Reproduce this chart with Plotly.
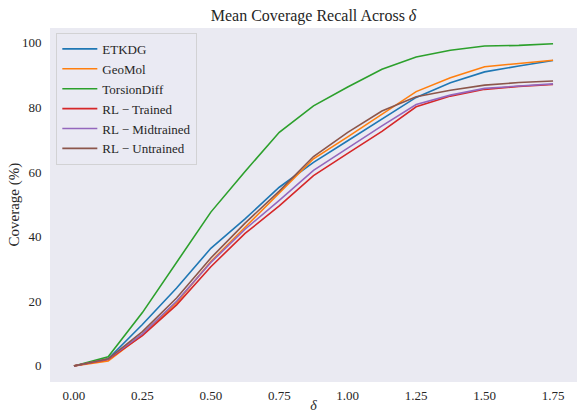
import plotly.graph_objects as go

delta = [0, 0.125, 0.25, 0.375, 0.5, 0.625, 0.75, 0.875, 1.0, 1.125, 1.25, 1.375, 1.5, 1.625, 1.75]

etkdg = [0, 2.2, 12.8, 24.1, 36.4, 45.5, 55.3, 63.0, 69.7, 76.4, 83.1, 87.6, 91.0, 92.8, 94.5]
geomol = [0, 1.5, 9.6, 19.6, 32.3, 43.0, 53.5, 64.1, 70.9, 77.9, 84.9, 89.2, 92.6, 93.6, 94.6]
torsiondiff = [0, 2.8, 16.5, 32.0, 47.6, 60.2, 72.3, 80.5, 86.3, 91.8, 95.6, 97.7, 99.0, 99.2, 99.7]
rl_trained = [0, 2.0, 9.4, 18.9, 30.7, 41.0, 49.5, 58.9, 65.8, 72.6, 80.2, 83.5, 85.6, 86.5, 87.1]
rl_midtrained = [0, 2.1, 9.9, 20.0, 32.0, 42.3, 51.2, 60.5, 67.4, 74.3, 80.9, 83.8, 85.9, 86.7, 87.3]
rl_untrained = [0, 2.2, 10.6, 21.0, 33.4, 44.2, 54.1, 64.8, 72.3, 78.9, 83.3, 85.3, 86.9, 87.7, 88.2]

names = ["ETKDG", "GeoMol", "TorsionDiff", "RL \u2212 Trained", "RL \u2212 Midtrained", "RL \u2212 Untrained"]
series = [etkdg, geomol, torsiondiff, rl_trained, rl_midtrained, rl_untrained]
colors = ["#1f77b4", "#ff7f0e", "#2ca02c", "#d62728", "#9467bd", "#8c564b"]

xticks = [0.0, 0.25, 0.5, 0.75, 1.0, 1.25, 1.5, 1.75]
xticklabels = ["0.00", "0.25", "0.50", "0.75", "1.00", "1.25", "1.50", "1.75"]
yticks = [0, 20, 40, 60, 80, 100]

FONT = "Liberation Serif"

fig = go.Figure()
for name, ys, c in zip(names, series, colors):
    fig.add_trace(go.Scatter(x=delta, y=ys, mode="lines", name=name,
                             line=dict(color=c, width=1.6)))

fig.update_layout(
    width=580, height=413,
    margin=dict(l=50, r=3, t=28, b=31, autoexpand=False),
    paper_bgcolor="white",
    plot_bgcolor="#EAEAF2",
    font=dict(family=FONT, size=13, color="#262626"),
    title=dict(text="Mean Coverage Recall Across <i>\u03b4</i>", x=0.5, xref="paper",
               xanchor="center", y=1 - 15 / 413, yref="container", yanchor="middle",
               font=dict(family=FONT, size=16, color="#262626")),
    showlegend=True,
    legend=dict(x=0.012, y=0.986, xanchor="left", yanchor="top",
                bgcolor="rgba(234,234,242,0.8)", bordercolor="rgba(204,204,204,0.8)",
                borderwidth=1, font=dict(family=FONT, size=13, color="#262626"),
                tracegroupgap=0, itemwidth=35),
    xaxis=dict(range=[-0.0875, 1.8375], tickvals=xticks, ticktext=xticklabels,
               showgrid=False, zeroline=False, showline=False, automargin=False,
               ticks="outside", ticklen=1, tickcolor="rgba(0,0,0,0)",
               tickfont=dict(family=FONT, size=13, color="#262626"),
               title=dict(text="<i>\u03b4</i>", standoff=0,
                          font=dict(family=FONT, size=14, color="#262626"))),
    yaxis=dict(range=[-4.98, 104.58], tickvals=yticks,
               showgrid=False, zeroline=False, showline=False, automargin=False,
               ticks="outside", ticklen=5, tickcolor="rgba(0,0,0,0)",
               tickfont=dict(family=FONT, size=13, color="#262626")),
    annotations=[dict(text="Coverage (%)", textangle=-90, xref="paper", yref="paper",
                      x=-(50 - 13.5) / 527, y=0.5, xanchor="center", yanchor="middle",
                      showarrow=False, font=dict(family=FONT, size=15, color="#262626"))],
)

fig.write_html("out.html",
               config={"displayModeBar": False, "staticPlot": True},
               post_script="document.body.style.margin='0';document.body.style.overflow='hidden';")
